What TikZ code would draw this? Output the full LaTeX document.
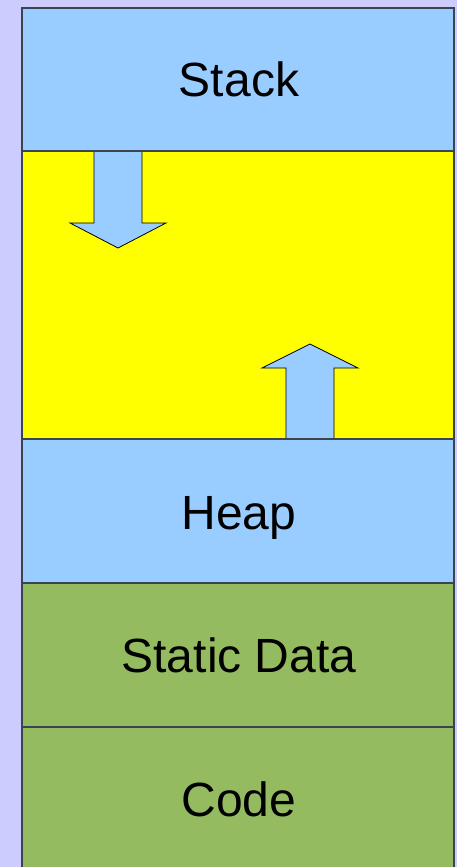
\documentclass[tikz,border=0pt]{standalone}
\usepackage{fontspec}
\setmainfont{Liberation Sans}
\definecolor{pagebg}{HTML}{CCCCFF}
\definecolor{segblue}{HTML}{99CCFF}
\definecolor{segyellow}{HTML}{FFFF00}
\definecolor{seggreen}{HTML}{94BB5F}
\definecolor{edge}{HTML}{3A4450}
\tikzset{
  seg/.style={draw=edge, line width=1.3pt},
  segtext/.style={font=\fontsize{48}{50}\selectfont, text=black, inner sep=0pt, anchor=base},
  growarrow/.style={fill=segblue, draw=black, line width=0.8pt, line join=miter}
}
\begin{document}
\begin{tikzpicture}[x=1pt,y=-1pt]
  \useasboundingbox (0,0) rectangle (457,867);
  \fill[pagebg] (0,0) rectangle (457,867);
  \begin{scope}
    \clip (0,0) rectangle (457,867);
    % memory segments, top to bottom
    \path[seg, fill=segblue]   (22,8)   rectangle (454,151);
    \path[seg, fill=segyellow] (22,151) rectangle (454,439);
    \path[seg, fill=segblue]   (22,439) rectangle (454,583);
    \path[seg, fill=seggreen]  (22,583) rectangle (454,727);
    \path[seg, fill=seggreen]  (22,727) rectangle (454,875);
    % stack grows downwards
    \draw[growarrow] (94,151) -- (94,223) -- (70,223) -- (118,248) -- (166,223) -- (142,223) -- (142,151);
    % heap grows upwards
    \draw[growarrow] (286,439) -- (286,368) -- (262,368) -- (310,344) -- (358,368) -- (334,368) -- (334,439);
    \draw[seg] (22,439) -- (454,439);
    \draw[seg] (22,151) -- (454,151);
  \end{scope}
  \node[segtext] (stack)  at (239,96)  {Stack};
  \node[segtext] (heap)   at (239,529) {Heap};
  \node[segtext] (static) at (239,672) {Static Data};
  \node[segtext] (code)   at (239,816) {Code};
\end{tikzpicture}
\end{document}
